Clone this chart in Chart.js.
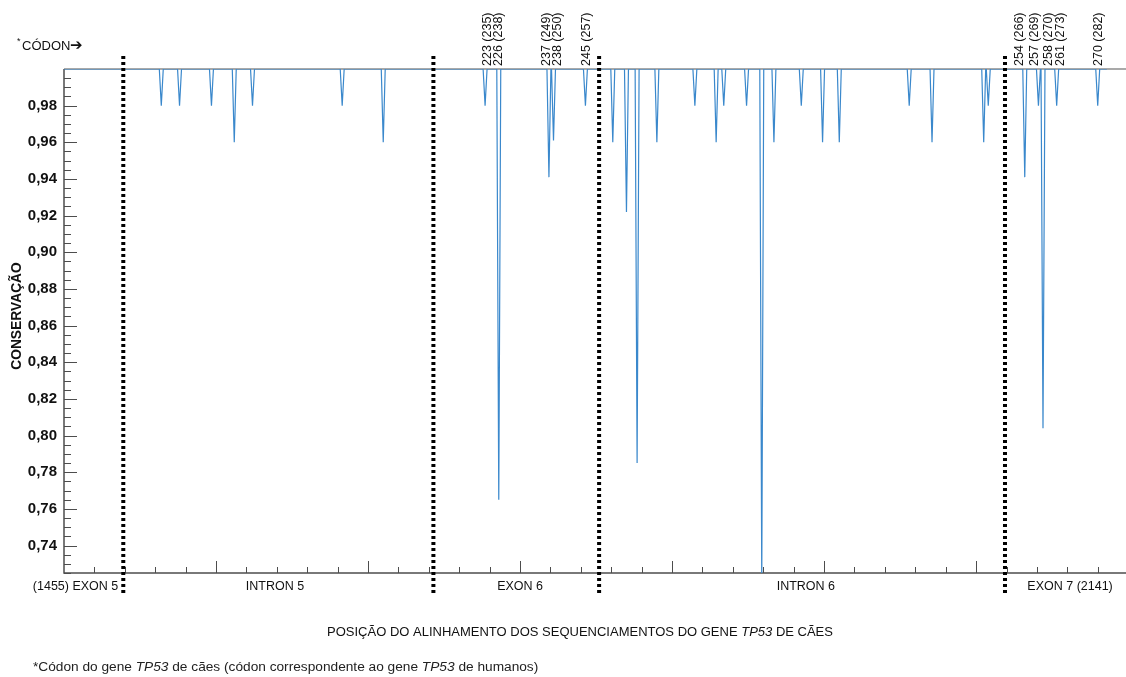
<!DOCTYPE html>
<html>
<head>
<meta charset="utf-8">
<script src="https://cdn.jsdelivr.net/npm/chart.js@4.4.0/dist/chart.umd.min.js"></script>
<style>
  html, body { margin: 0; padding: 0; background: #fff; }
  #wrap { width: 1126px; height: 677px; }
</style>
</head>
<body>
<div id="wrap"><canvas id="chart" width="1126" height="677"></canvas></div>
<script>
// alignment positions (x) and conservation values (y) of every dip in the curve
const spikePositions = [1519, 1531, 1552, 1567, 1579, 1638, 1665, 1732, 1741, 1774, 1777, 1798,
  1816, 1825, 1832, 1845, 1870, 1884, 1889, 1904, 1914, 1922, 1940, 1954, 1965, 2011, 2026,
  2060, 2063, 2087, 2096, 2099, 2108, 2135];
const spikeValues = [0.98, 0.98, 0.98, 0.96, 0.98, 0.98, 0.96, 0.98, 0.765, 0.941, 0.961, 0.98,
  0.96, 0.922, 0.785, 0.96, 0.98, 0.96, 0.98, 0.98, 0.72, 0.96, 0.98, 0.96, 0.96, 0.98, 0.96,
  0.96, 0.98, 0.941, 0.98, 0.804, 0.98, 0.98];

const alignStart = 1455;
const alignEnd = 2141;

// exon / intron limits (dotted lines)
const boundaryPositions = [1494, 1698, 1807, 2074];
const regionLabels = ['(1455) EXON 5', 'INTRON 5', 'EXON 6', 'INTRON 6', 'EXON 7 (2141)'];
const regionCenters = [1462.6, 1593.8, 1755, 1943, 2116.8];

// codon labels above the dips (dog codon (human codon))
const codonLabels = ['223 (235)', '226 (238)', '237 (249)', '238 (250)', '245 (257)',
  '254 (266)', '257 (269)', '258 (270)', '261 (273)', '270 (282)'];
const codonPositions = [1732, 1741, 1774, 1777, 1798, 2087, 2096, 2099, 2108, 2135];
const codonShift = [2, 0, -2, 4, 1, -5, -4, 6, 4, 1]; // px, to keep the labels apart

const yTickLabels = [0.74, 0.76, 0.78, 0.80, 0.82, 0.84, 0.86, 0.88, 0.90, 0.92, 0.94, 0.96, 0.98];

const FONT = '"Liberation Sans", Arial, "DejaVu Sans", sans-serif';
const SPIKE_HALF = 1.3;

const lineData = [{ x: alignStart, y: 1 }];
spikePositions.forEach((p, i) => {
  lineData.push({ x: p - SPIKE_HALF, y: 1 }, { x: p, y: spikeValues[i] }, { x: p + SPIKE_HALF, y: 1 });
});
lineData.push({ x: alignEnd, y: 1 });

const isLabelled = v => yTickLabels.some(t => Math.abs(t - v) < 1e-6);

function drawParts(ctx, parts, x, y, align) {
  let total = 0;
  parts.forEach(p => { ctx.font = p.font; total += ctx.measureText(p.text).width; });
  let cx = align === 'center' ? x - total / 2 : x;
  ctx.textAlign = 'left';
  parts.forEach(p => {
    ctx.font = p.font;
    ctx.fillText(p.text, cx, y);
    cx += ctx.measureText(p.text).width;
  });
}

const decor = {
  id: 'decor',
  beforeDatasetsDraw(chart) {
    const { ctx, chartArea: a, scales: { x, y } } = chart;
    ctx.save();
    ctx.strokeStyle = '#8c8c8c';
    ctx.lineWidth = 1.5;
    ctx.beginPath();
    ctx.moveTo(a.left, a.top);
    ctx.lineTo(a.right, a.top);
    ctx.stroke();

    ctx.strokeStyle = '#4d4d4d';
    ctx.lineWidth = 1.5;
    ctx.beginPath();
    ctx.moveTo(a.left, a.top);
    ctx.lineTo(a.left, a.bottom);
    ctx.lineTo(a.right, a.bottom);
    ctx.stroke();

    ctx.lineWidth = 1;
    ctx.beginPath();
    y.ticks.forEach(t => {
      if (t.value >= 0.999) return;
      const py = Math.round(y.getPixelForValue(t.value)) + 0.5;
      ctx.moveTo(a.left, py);
      ctx.lineTo(a.left + (isLabelled(t.value) ? 13 : 7), py);
    });
    for (let v = alignStart + 20; v < x.max; v += 20) {
      const px = Math.round(x.getPixelForValue(v)) + 0.5;
      ctx.moveTo(px, a.bottom);
      ctx.lineTo(px, a.bottom - ((v - alignStart) % 100 === 0 ? 12 : 6));
    }
    ctx.stroke();
    ctx.restore();
  },
  afterDatasetsDraw(chart) {
    const { ctx, scales: { x } } = chart;
    ctx.save();
    ctx.strokeStyle = '#000';
    ctx.lineWidth = 4;
    ctx.setLineDash([3, 3]);
    boundaryPositions.forEach(b => {
      const px = x.getPixelForValue(b);
      ctx.beginPath();
      ctx.moveTo(px, 56);
      ctx.lineTo(px, 595);
      ctx.stroke();
    });
    ctx.restore();
  },
  afterDraw(chart) {
    const { ctx, chartArea: a, scales: { x } } = chart;
    ctx.save();
    ctx.fillStyle = '#111';

    // codon labels
    ctx.font = '12.5px ' + FONT;
    ctx.textBaseline = 'middle';
    codonLabels.forEach((lab, i) => {
      const px = x.getPixelForValue(codonPositions[i]) + codonShift[i];
      ctx.save();
      ctx.translate(px, a.top - 3);
      ctx.rotate(-Math.PI / 2);
      ctx.textAlign = 'left';
      ctx.fillText(lab, 0, 0);
      ctx.restore();
    });

    // region names under the axis
    ctx.font = '12.5px ' + FONT;
    ctx.textAlign = 'center';
    regionLabels.forEach((lab, i) => {
      ctx.fillText(lab, x.getPixelForValue(regionCenters[i]), 587);
    });

    // axis titles
    const reg = '13px ' + FONT, ita = 'italic 13px ' + FONT;
    drawParts(ctx, [
      { text: 'POSIÇÃO DO ALINHAMENTO DOS SEQUENCIAMENTOS DO GENE ', font: reg },
      { text: 'TP53', font: ita },
      { text: ' DE CÃES', font: reg }
    ], 580, 632, 'center');

    ctx.save();
    ctx.translate(17, 316);
    ctx.rotate(-Math.PI / 2);
    ctx.font = 'bold 13.8px ' + FONT;
    ctx.textAlign = 'center';
    ctx.fillText('CONSERVAÇÃO', 0, 0);
    ctx.restore();

    // codon marker, top left
    ctx.font = '9px ' + FONT;
    ctx.textAlign = 'left';
    ctx.fillText('*', 17, 42);
    ctx.font = '13px ' + FONT;
    ctx.fillText('CÓDON', 22, 46);
    ctx.font = 'bold 15px "DejaVu Sans", sans-serif';
    ctx.fillText('➔', 70, 46);

    // footnote
    const fr = '13.7px ' + FONT, fi = 'italic 13.7px ' + FONT;
    ctx.fillStyle = '#222';
    drawParts(ctx, [
      { text: '*Códon do gene ', font: fr },
      { text: 'TP53', font: fi },
      { text: ' de cães (códon correspondente ao gene ', font: fr },
      { text: 'TP53', font: fi },
      { text: ' de humanos)', font: fr }
    ], 33, 667, 'left');
    ctx.restore();
  }
};

new Chart(document.getElementById('chart'), {
  type: 'line',
  data: {
    datasets: [{
      data: lineData,
      borderColor: '#3a88cc',
      borderWidth: 1.2,
      pointRadius: 0,
      tension: 0,
      fill: false
    }]
  },
  options: {
    responsive: false,
    animation: false,
    layout: { padding: { top: 69, left: 0, right: 0, bottom: 0 } },
    plugins: { legend: { display: false }, tooltip: { enabled: false } },
    scales: {
      x: {
        type: 'linear',
        min: alignStart,
        max: 2153.6,
        grid: { display: false, drawTicks: false },
        border: { display: false },
        ticks: { display: false },
        afterFit: s => { s.height = 104; }
      },
      y: {
        min: 0.725,
        max: 1.0,
        grid: { display: false, drawTicks: false },
        border: { display: false },
        ticks: {
          stepSize: 0.005,
          autoSkip: false,
          padding: 7,
          color: '#111',
          font: { family: FONT, size: 15, weight: 'bold' },
          callback: v => (isLabelled(v) ? v.toFixed(2).replace('.', ',') : '')
        },
        afterFit: s => { s.width = 64; }
      }
    }
  },
  plugins: [decor]
});
</script>
</body>
</html>
